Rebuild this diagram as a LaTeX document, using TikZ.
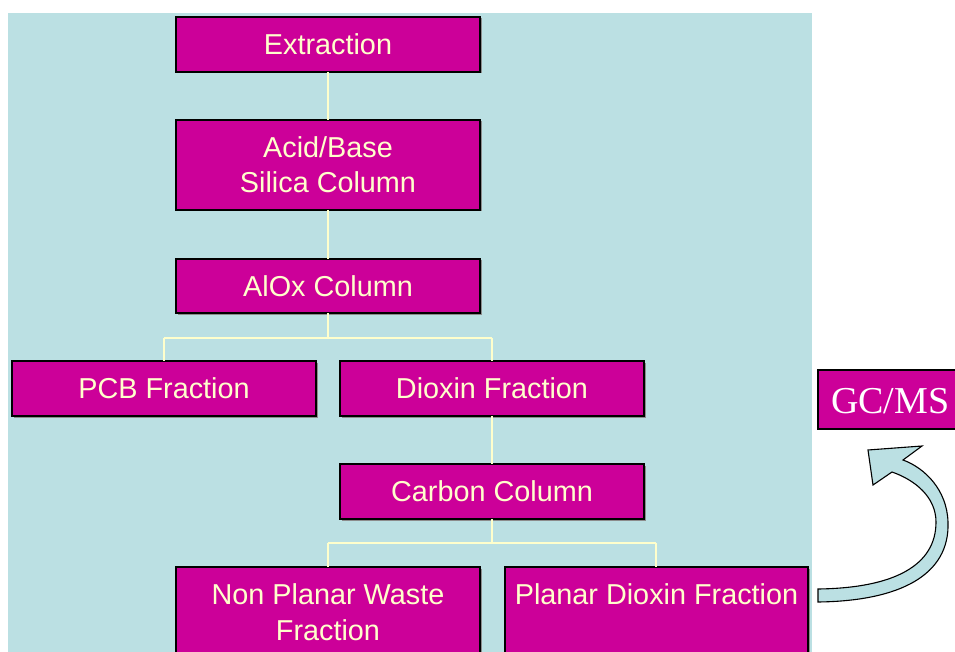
\documentclass[tikz,border=0pt]{standalone}
\usepackage{fontspec}
\setmainfont{Liberation Sans}
\newfontfamily\gcfont{Liberation Serif}
\usetikzlibrary{shadows}
\definecolor{bgblue}{HTML}{BBE0E3}
\definecolor{boxmag}{HTML}{CC0099}
\definecolor{lineyel}{HTML}{FFFFCC}
\begin{document}
\begin{tikzpicture}[x=1pt,y=-1pt,
  stagebox/.style={draw=black, line width=1.5pt, fill=boxmag, text=lineyel,
    font=\fontsize{28.8}{35}\selectfont, align=center, minimum width=304pt,
    minimum height=55pt, inner sep=0pt, outer sep=0pt,
    general shadow={shadow xshift=1.5pt, shadow yshift=-1.5pt, fill=black!45}},
  link/.style={draw=lineyel, line width=2pt}]
\useasboundingbox (0,0) rectangle (955,652);
\fill[white] (0,0) rectangle (955,652);
\fill[bgblue] (8,13) rectangle (812,660);

\coordinate (j1) at (328,338);
\coordinate (j1l) at (164,338);
\coordinate (j1r) at (492,338);
\coordinate (j2) at (492,543);
\coordinate (j2l) at (328,543);
\coordinate (j2r) at (656,543);

\node[stagebox] (extr) at (328,44.5) {Extraction};
\node[stagebox, minimum height=90pt] (acid) at (328,165) {Acid/Base\\Silica Column};
\node[stagebox, minimum height=54pt] (alox) at (328,286) {AlOx Column};
\node[stagebox] (pcb) at (164,388.5) {PCB Fraction};
\node[stagebox] (diox) at (492,388.5) {Dioxin Fraction};
\node[stagebox] (carb) at (492,491.5) {Carbon Column};
\node[stagebox, minimum height=90pt, font=\fontsize{28.8}{36}\selectfont] (nonp) at (328,612)
  {Non Planar Waste\\Fraction};
\node[stagebox, minimum height=90pt, minimum width=303pt, font=\fontsize{28.8}{36}\selectfont] (plan) at (656.5,612)
  {Planar Dioxin Fraction\\\mbox{}};

\draw[link] (extr.south) -- (acid.north);
\draw[link] (acid.south) -- (alox.north);
\draw[link] (alox.south) -- (j1);
\draw[link] (j1l) -- (j1r);
\draw[link] (j1l) -- (pcb.north -| j1l);
\draw[link] (j1r) -- (diox.north -| j1r);
\draw[link] (diox.south) -- (carb.north);
\draw[link] (carb.south) -- (j2);
\draw[link] (j2l) -- (j2r);
\draw[link] (j2l) -- (nonp.north -| j2l);
\draw[link] (j2r) -- (plan.north -| j2r);

% GC/MS box
\node[draw=black, line width=1.5pt, fill=boxmag, minimum width=142pt, minimum height=59pt,
  inner sep=0pt, outer sep=0pt] (gcms) at (889,399.5) {};
\node[anchor=west, text=white, font=\gcfont\fontsize{38}{40}\selectfont, inner sep=0pt] (gcmstext) at (831,401) {GC/MS};

% curved block arrow
\draw[fill=bgblue, draw=black, line width=1.1pt, line join=miter]
  (818,602) .. controls (900,601) and (950,575) .. (948,522)
  .. controls (947,490) and (925,468) .. (903,460)
  -- (922,446) -- (868,450) -- (873,485) -- (892,472)
  .. controls (915,480) and (936,497) .. (936,522)
  .. controls (936,565) and (895,588) .. (818,589) -- cycle;
\end{tikzpicture}
\end{document}
